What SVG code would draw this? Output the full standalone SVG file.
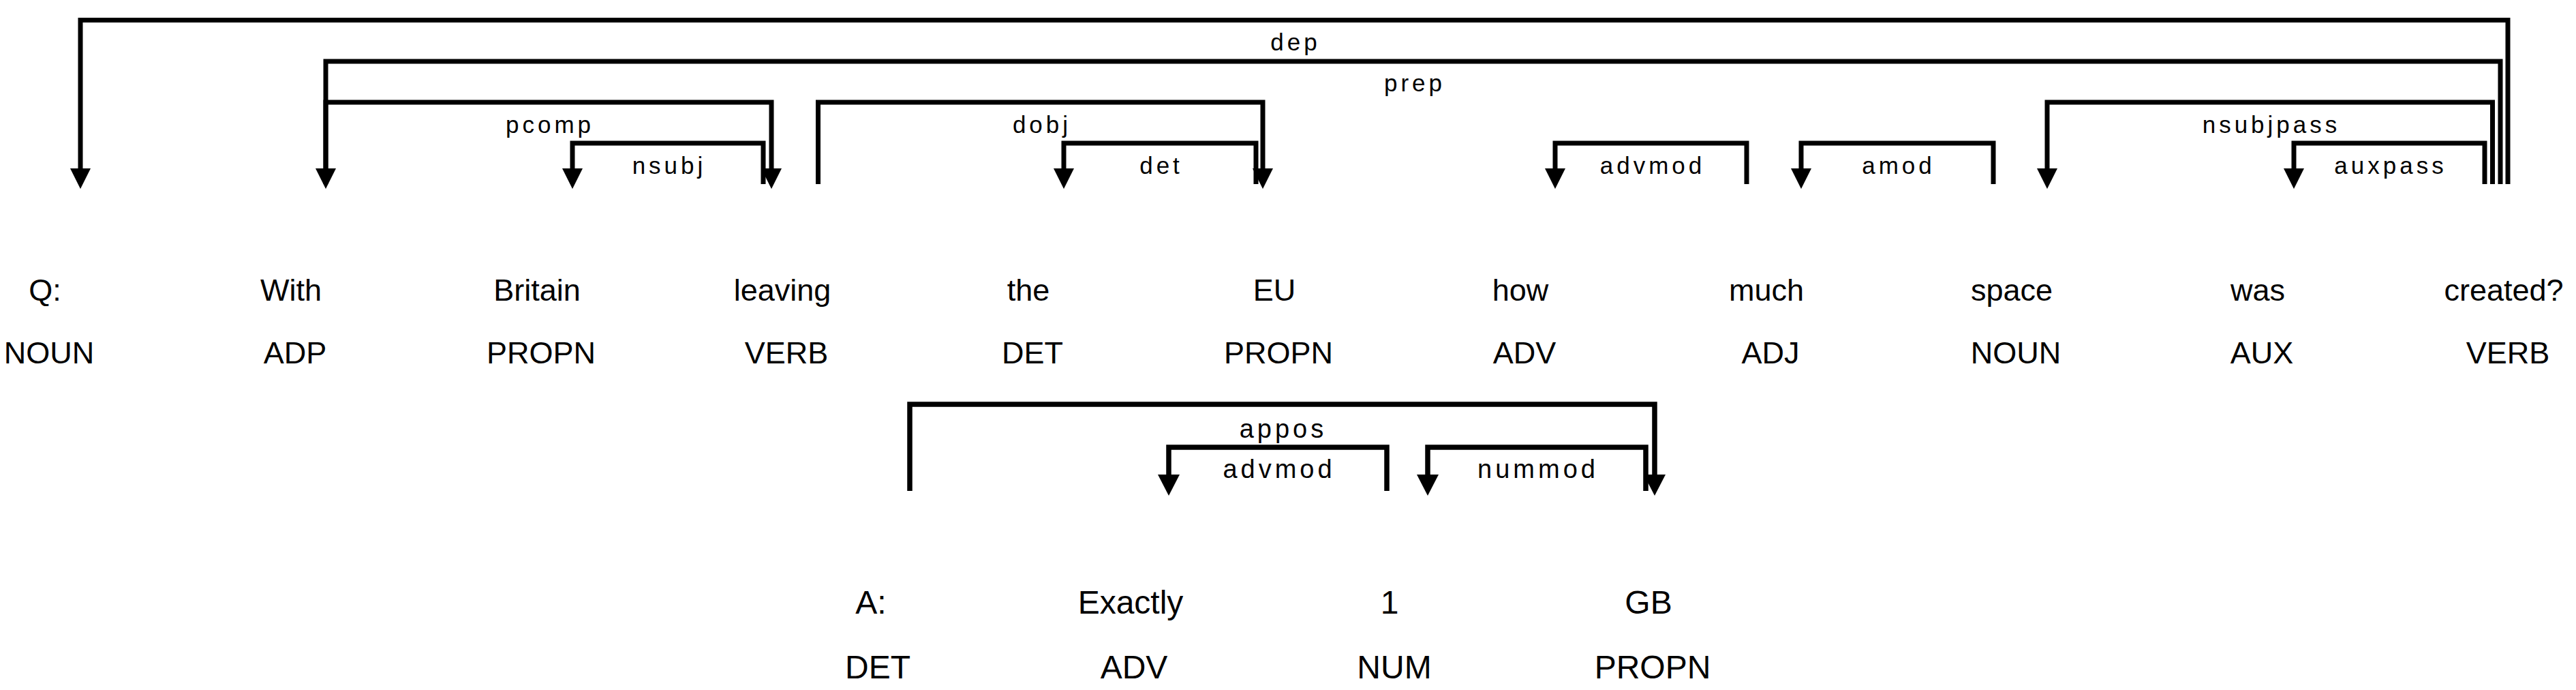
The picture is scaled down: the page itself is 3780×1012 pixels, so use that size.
<svg xmlns="http://www.w3.org/2000/svg" width="3780" height="1012" viewBox="0 0 3780 1012">
<style>
  .bg { fill: #ffffff; }
  .word { font-family: "Liberation Sans", Arial, Helvetica, sans-serif; font-size: 45px; fill: #000; text-anchor: middle; }
  .word2 { font-family: "Liberation Sans", Arial, Helvetica, sans-serif; font-size: 48px; fill: #000; text-anchor: middle; }
  .lab { font-family: "Liberation Sans", Arial, Helvetica, sans-serif; font-size: 35px; letter-spacing: 5px; fill: #000; text-anchor: middle; }
  .lab2 { font-family: "Liberation Sans", Arial, Helvetica, sans-serif; font-size: 38px; letter-spacing: 5px; fill: #000; text-anchor: middle; }
  .arc { fill: none; stroke: #000; stroke-width: 7; stroke-linejoin: miter; stroke-linecap: butt; marker-end: url(#ah); }
  .arc2 { fill: none; stroke: #000; stroke-width: 7.5; stroke-linejoin: miter; stroke-linecap: butt; marker-end: url(#ah2); }
</style>
<defs>
  <marker id="ah" markerUnits="userSpaceOnUse" markerWidth="30" markerHeight="30" viewBox="0 0 30 30" refX="0" refY="15" orient="auto">
    <path d="M0,0 L30,15 L0,30 Z" fill="#000"/>
  </marker>
  <marker id="ah2" markerUnits="userSpaceOnUse" markerWidth="31" markerHeight="32" viewBox="0 0 31 32" refX="0" refY="16" orient="auto">
    <path d="M0,0 L31,16 L0,32 Z" fill="#000"/>
  </marker>
</defs>
<rect class="bg" x="0" y="0" width="3780" height="1012"/>

<g id="connectors">
  <g id="arc-dep"><path class="arc" d="M3680,270 V29.5 H118 V247"/><text class="lab" x="1901" y="74">dep</text></g>
  <g id="arc-prep"><path class="arc" d="M3669,270 V90 H478 V247"/><text class="lab" x="2076" y="134">prep</text></g>
  <g id="arc-pcomp"><path class="arc" d="M478,270 V150 H1132 V247"/><text class="lab" x="807" y="195">pcomp</text></g>
  <g id="arc-nsubj"><path class="arc" d="M1120,270 V210 H840 V247"/><text class="lab" x="982" y="255">nsubj</text></g>
  <g id="arc-dobj"><path class="arc" d="M1200.5,270 V150 H1853 V247"/><text class="lab" x="1529" y="195">dobj</text></g>
  <g id="arc-det"><path class="arc" d="M1843,270 V210 H1561 V247"/><text class="lab" x="1704" y="255">det</text></g>
  <g id="arc-advmod"><path class="arc" d="M2563,270 V210 H2282 V247"/><text class="lab" x="2425" y="255">advmod</text></g>
  <g id="arc-amod"><path class="arc" d="M2925,270 V210 H2643 V247"/><text class="lab" x="2786" y="255">amod</text></g>
  <g id="arc-nsubjpass"><path class="arc" d="M3657.5,270 V150 H3004 V247"/><text class="lab" x="3333" y="195">nsubjpass</text></g>
  <g id="arc-auxpass"><path class="arc" d="M3646,270 V210 H3366 V247"/><text class="lab" x="3508" y="255">auxpass</text></g>

  <g id="arc-appos"><path class="arc2" d="M1335,720 V593 H2428 V696"/><text class="lab2" x="1883" y="642">appos</text></g>
  <g id="arc-advmod2"><path class="arc2" d="M2035,720 V656 H1715 V696"/><text class="lab2" x="1877" y="701">advmod</text></g>
  <g id="arc-nummod"><path class="arc2" d="M2415,720 V656 H2095 V696"/><text class="lab2" x="2257" y="701">nummod</text></g>
</g>

<g id="node-q0"><text class="word" x="66" y="441">Q:</text><text class="word" x="72" y="533">NOUN</text></g>
<g id="node-q1"><text class="word" x="427" y="441">With</text><text class="word" x="433" y="533">ADP</text></g>
<g id="node-q2"><text class="word" x="788" y="441">Britain</text><text class="word" x="794" y="533">PROPN</text></g>
<g id="node-q3"><text class="word" x="1148" y="441">leaving</text><text class="word" x="1154" y="533">VERB</text></g>
<g id="node-q4"><text class="word" x="1509" y="441">the</text><text class="word" x="1515" y="533">DET</text></g>
<g id="node-q5"><text class="word" x="1870" y="441">EU</text><text class="word" x="1876" y="533">PROPN</text></g>
<g id="node-q6"><text class="word" x="2231" y="441">how</text><text class="word" x="2237" y="533">ADV</text></g>
<g id="node-q7"><text class="word" x="2592" y="441">much</text><text class="word" x="2598" y="533">ADJ</text></g>
<g id="node-q8"><text class="word" x="2952" y="441">space</text><text class="word" x="2958" y="533">NOUN</text></g>
<g id="node-q9"><text class="word" x="3313" y="441">was</text><text class="word" x="3319" y="533">AUX</text></g>
<g id="node-q10"><text class="word" x="3674" y="441">created?</text><text class="word" x="3680" y="533">VERB</text></g>

<g id="node-a0"><text class="word2" x="1278" y="900">A:</text><text class="word2" x="1288" y="995">DET</text></g>
<g id="node-a1"><text class="word2" x="1659" y="900">Exactly</text><text class="word2" x="1664" y="995">ADV</text></g>
<g id="node-a2"><text class="word2" x="2039" y="900">1</text><text class="word2" x="2046" y="995">NUM</text></g>
<g id="node-a3"><text class="word2" x="2419" y="900">GB</text><text class="word2" x="2425" y="995">PROPN</text></g>
</svg>
